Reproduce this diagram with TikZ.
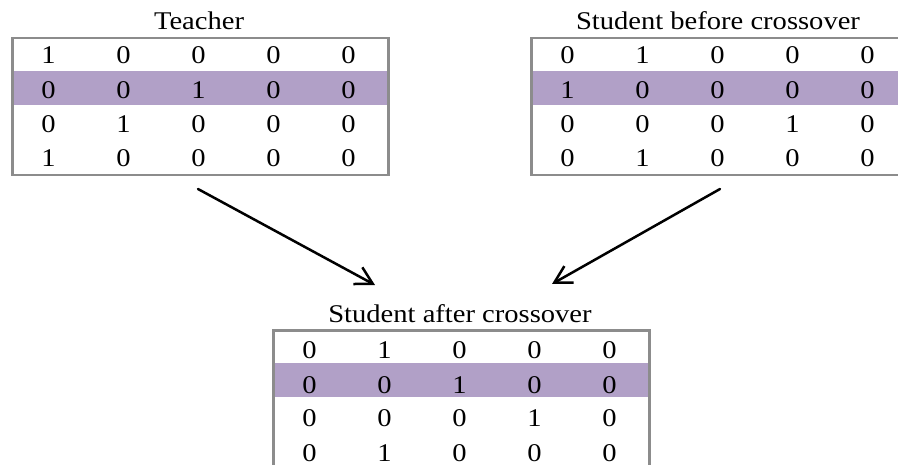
\documentclass[tikz,border=0pt]{standalone}
\usepackage{fontspec}
\setmainfont{Liberation Serif}[FakeStretch=1.12]
\usetikzlibrary{arrows.meta}
\definecolor{rowpurple}{RGB}{177,160,199}
\definecolor{framegray}{RGB}{140,140,140}
\tikzset{
  frame/.style={draw=framegray, line width=2.5pt, minimum width=376pt, inner sep=0pt, anchor=north west},
  cell/.style={anchor=base, inner sep=0pt, font=\fontsize{25.5}{30}\selectfont},
  title/.style={anchor=base, inner sep=0pt, font=\fontsize{25.5}{30}\selectfont},
  arr/.style={-{Straight Barb[length=17pt,width=19pt]}, line width=2.5pt, line cap=round},
}
% #1 name, #2 left, #3 top, #4 row height, #5 baseline offset, #6 rows
\newcommand\mygrid[6]{%
  \fill[rowpurple] (#2,#3+#4) rectangle (#2+376,#3+2*#4);
  \node[frame, minimum height=4*#4 pt] (#1) at (#2,#3) {};
  \foreach \rowvals [count=\ri] in {#6} {
    \foreach \v [count=\ci] in \rowvals {
      \node[cell] (#1-\ri-\ci) at (#2+37.5+75*\ci-75, #3+#5+#4*\ri-#4) {\v};
    }
  }
}
\begin{document}
\begin{tikzpicture}[x=1pt,y=-1pt]
\useasboundingbox (0,0) rectangle (898,465);
\clip (0,0) rectangle (898,465);
\mygrid{T}{11}{37}{34.25}{27}{{1,0,0,0,0},{0,0,1,0,0},{0,1,0,0,0},{1,0,0,0,0}}
\mygrid{B}{530}{37}{34.25}{27}{{0,1,0,0,0},{1,0,0,0,0},{0,0,0,1,0},{0,1,0,0,0}}
\mygrid{A}{272}{329.5}{34}{29.5}{{0,1,0,0,0},{0,0,1,0,0},{0,0,0,1,0},{0,1,0,0,0}}
\node[title] (Tt) at (199,30) {Teacher};
\node[title] (Bt) at (718,30) {Student before crossover};
\node[title] (At) at (460,323) {Student after crossover};
\coordinate (t1) at (198,189);
\coordinate (t2) at (375,285);
\coordinate (s1) at (720,189);
\coordinate (s2) at (552,284);
\draw[arr] (t1) -- (t2);
\draw[arr] (s1) -- (s2);
\end{tikzpicture}
\end{document}
